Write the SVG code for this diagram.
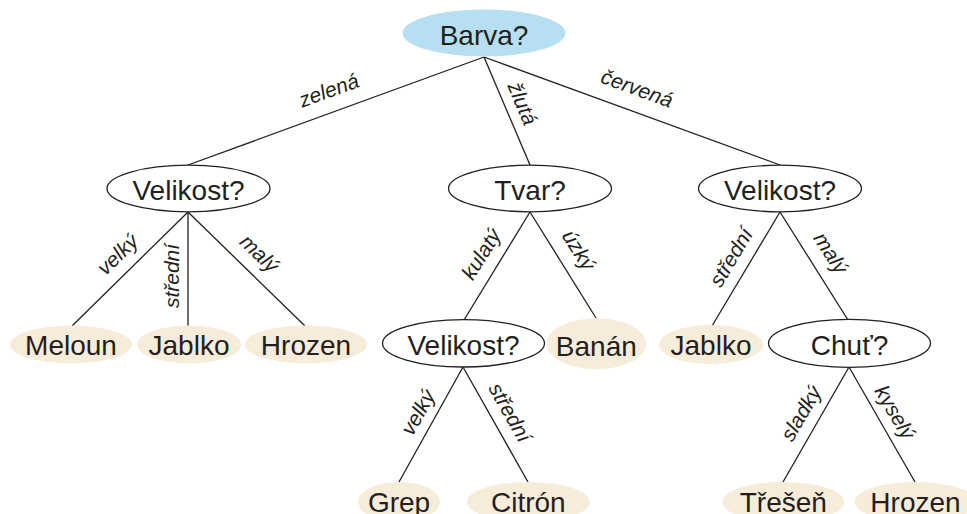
<svg xmlns="http://www.w3.org/2000/svg" width="967" height="514" viewBox="0 0 967 514">
  <style>
    .q { fill: #ffffff; stroke: #231f20; stroke-width: 1.3; }
    .root { fill: #b7dff2; stroke: none; }
    .leaf { fill: #f7ecd9; stroke: none; }
    .t { font-family: "Liberation Sans", Arial, sans-serif; font-size: 28px; fill: #231f20; text-anchor: middle; }
    .e { stroke: #231f20; stroke-width: 1.3; fill: none; }
    .lbl { font-family: "Liberation Sans", Arial, sans-serif; font-size: 21px; font-style: italic; fill: #231f20; text-anchor: middle; }
  </style>

  <!-- edges -->
  <g id="edges">
    <line class="e" x1="484" y1="57" x2="188" y2="165"/>
    <line class="e" x1="484" y1="57" x2="530" y2="165"/>
    <line class="e" x1="484" y1="57" x2="780" y2="165"/>

    <line class="e" x1="188" y1="212" x2="72" y2="326"/>
    <line class="e" x1="188" y1="212" x2="188" y2="326"/>
    <line class="e" x1="188" y1="212" x2="305" y2="326"/>

    <line class="e" x1="530" y1="212" x2="464" y2="320"/>
    <line class="e" x1="530" y1="212" x2="596" y2="318"/>

    <line class="e" x1="780" y1="212" x2="712" y2="326"/>
    <line class="e" x1="780" y1="212" x2="848" y2="320"/>

    <line class="e" x1="463" y1="367" x2="399" y2="482"/>
    <line class="e" x1="463" y1="367" x2="528" y2="482"/>

    <line class="e" x1="849" y1="367" x2="783" y2="482"/>
    <line class="e" x1="849" y1="367" x2="915" y2="482"/>
  </g>

  <!-- edge labels -->
  <g id="edge-labels">
    <text class="lbl" transform="translate(332 99) rotate(-20)" dy="-2">zelená</text>
    <text class="lbl" transform="translate(514 107) rotate(67)" dy="-2">žlutá</text>
    <text class="lbl" transform="translate(634 97) rotate(20)" dy="-2">červená</text>

    <text class="lbl" transform="translate(124 261) rotate(-44)" dy="-2">velký</text>
    <text class="lbl" transform="translate(181 276) rotate(-90)" dy="-2">střední</text>
    <text class="lbl" transform="translate(253 260) rotate(44)" dy="-2">malý</text>

    <text class="lbl" transform="translate(489 259) rotate(-58)" dy="-2">kulatý</text>
    <text class="lbl" transform="translate(571 255) rotate(58)" dy="-2">úzký</text>

    <text class="lbl" transform="translate(739 262) rotate(-59)" dy="-2">střední</text>
    <text class="lbl" transform="translate(823 258) rotate(57.5)" dy="-2">malý</text>

    <text class="lbl" transform="translate(426 417) rotate(-60.5)" dy="-2">velký</text>
    <text class="lbl" transform="translate(502 417) rotate(60.5)" dy="-2">střední</text>

    <text class="lbl" transform="translate(809 418) rotate(-59.5)" dy="-2">sladký</text>
    <text class="lbl" transform="translate(887 417) rotate(59.5)" dy="-2">kyselý</text>
  </g>

  <!-- nodes -->
  <g id="n-barva">
    <ellipse class="root" cx="484" cy="33" rx="81.5" ry="23.5"/>
    <text class="t" x="484" y="45">Barva?</text>
  </g>

  <g id="n-velikost-l">
    <ellipse class="q" cx="188.5" cy="188.5" rx="81.5" ry="23.3"/>
    <text class="t" x="188.5" y="200">Velikost?</text>
  </g>
  <g id="n-tvar">
    <ellipse class="q" cx="530" cy="188.5" rx="81.5" ry="23.3"/>
    <text class="t" x="530" y="200">Tvar?</text>
  </g>
  <g id="n-velikost-r">
    <ellipse class="q" cx="780" cy="188.5" rx="81.5" ry="23.3"/>
    <text class="t" x="780" y="200">Velikost?</text>
  </g>

  <g id="n-meloun">
    <ellipse class="leaf" cx="71" cy="344.5" rx="61" ry="19"/>
    <text class="t" x="71" y="355">Meloun</text>
  </g>
  <g id="n-jablko-l">
    <ellipse class="leaf" cx="189" cy="344.5" rx="52" ry="19"/>
    <text class="t" x="189" y="355">Jablko</text>
  </g>
  <g id="n-hrozen-l">
    <ellipse class="leaf" cx="306" cy="344.5" rx="61" ry="19"/>
    <text class="t" x="306" y="355">Hrozen</text>
  </g>

  <g id="n-velikost-m">
    <ellipse class="q" cx="463.5" cy="343.3" rx="81" ry="23.7"/>
    <text class="t" x="463.5" y="355">Velikost?</text>
  </g>
  <g id="n-banan">
    <ellipse class="leaf" cx="596.3" cy="343.8" rx="49.7" ry="25.5"/>
    <text class="t" x="596.3" y="356">Banán</text>
  </g>

  <g id="n-jablko-r">
    <ellipse class="leaf" cx="711" cy="344.5" rx="52" ry="19.5"/>
    <text class="t" x="711" y="355">Jablko</text>
  </g>
  <g id="n-chut">
    <ellipse class="q" cx="849.5" cy="343.3" rx="81" ry="24"/>
    <text class="t" x="849.5" y="355">Chuť?</text>
  </g>

  <!-- bottom row runs past the lower edge of the canvas -->
  <g id="n-grep">
    <ellipse class="leaf" cx="399" cy="502" rx="41" ry="20"/>
    <text class="t" x="399" y="512">Grep</text>
  </g>
  <g id="n-citron">
    <ellipse class="leaf" cx="528.3" cy="502" rx="61.5" ry="20"/>
    <text class="t" x="528.3" y="512">Citrón</text>
  </g>
  <g id="n-tresen">
    <ellipse class="leaf" cx="783.3" cy="502" rx="61" ry="20"/>
    <text class="t" x="783.3" y="512">Třešeň</text>
  </g>
  <g id="n-hrozen-r">
    <ellipse class="leaf" cx="915.5" cy="502" rx="61" ry="20"/>
    <text class="t" x="915.5" y="512">Hrozen</text>
  </g>
</svg>
